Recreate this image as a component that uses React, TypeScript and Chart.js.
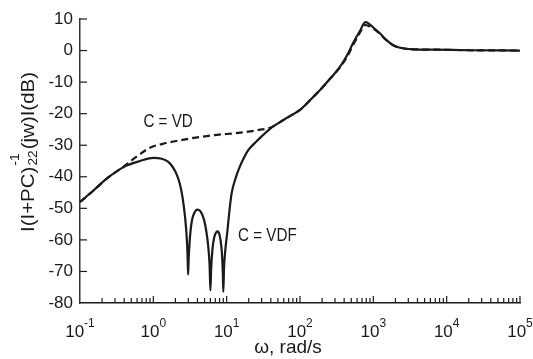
import React, { useEffect, useRef } from "react";
import { Chart, registerables } from "chart.js";

Chart.register(...registerables);

// ---- data ----
const omegaVDF = [
  0.1, 0.15, 0.24, 0.41, 0.66, 1.0, 1.3, 1.6, 1.87, 2.1, 2.3, 2.5, 2.7, 2.85, 2.93, 2.98,
  3.04, 3.15, 3.35, 3.65, 3.95, 4.4, 4.9, 5.3, 5.6, 5.85, 6.0, 6.15, 6.4, 6.8, 7.2, 7.55,
  7.95, 8.3, 8.6, 8.85, 9.0, 9.2, 9.6, 10.2, 11.0, 11.7, 13.0, 14.5, 17.0, 19.8, 25, 30,
  39, 50.7, 70, 100, 140, 188, 260, 352, 450, 530, 650, 780, 850, 1000, 1238, 1500, 1864,
  2323, 3500, 6546, 20000, 100000,
];
const dbVDF = [
  -48, -44.5, -40.3, -36.7, -35, -34, -34.3, -35.3, -37.2, -39.5, -42.3, -46.5, -52.5, -59, -65, -71,
  -65.5, -59.5, -54, -51.3, -50.4, -51, -53.5, -57.5, -62, -68, -76, -69, -63, -59, -57.6, -57.3,
  -58.2, -60.5, -64, -70, -76.5, -69, -63, -57.5, -50, -45.2, -41, -37.8, -34.2, -31.5, -29, -27.2,
  -24.8, -23, -21, -18.8, -15.5, -12.5, -8.8, -5.1, -1, 2.4, 6, 9, 8.7, 7.3, 5.4, 3.4, 1.7,
  0.9, 0.4, 0.3, 0.1, 0,
];
const omegaVD = [
  0.1, 0.15, 0.24, 0.41, 0.6, 0.9, 1.5, 2.5, 4.0, 7.4, 13, 21, 30, 39, 50.7, 70, 100, 140,
  188, 260, 352, 450, 530, 650, 780, 850, 1000, 1238, 1500, 1864, 2323, 3500, 6546, 20000, 100000,
];
const dbVD = [
  -48, -44.5, -40.3, -36.5, -33.5, -30.8, -29.3, -28.3, -27.5, -26.7, -26.2, -25.6, -25, -24.5, -23, -21, -18.8, -15.5,
  -12.5, -8.8, -5.3, -1.5, 1.8, 5.5, 8.1, 7.9, 7.0, 5.2, 3.3, 1.7, 0.9, 0.4, 0.3, 0.1, 0,
];
const yTickValues = [10, 0, -10, -20, -30, -40, -50, -60, -70, -80];
const xDecades = [0.1, 1, 10, 100, 1000, 10000, 100000];
const xExponents = ["-1", "0", "1", "2", "3", "4", "5"];
const minorMultipliers = [2, 3, 4, 5, 6, 7, 8, 9];
const labelVD = { text: "C = VD", omega: 1.59, db: -22.6 };
const labelVDF = { text: "C = VDF", omega: 14.3, db: -58.7 };
const xTitle = "ω, rad/s";
const yTitleParts = { pre: "I(I+PC)", sup: "-1", sub: "22", post: "(jw)I(dB)" };

const FONT = '"Liberation Sans", Arial, Helvetica, sans-serif';
const INK = "#1a1a1a";

const decorPlugin = {
  id: "decor",
  afterDraw(chart: any) {
    const { ctx, chartArea } = chart;
    const xs = chart.scales.x;
    const ys = chart.scales.y;
    ctx.save();
    ctx.strokeStyle = INK;
    ctx.fillStyle = INK;
    ctx.lineWidth = 1.2;

    const yb = chartArea.bottom;
    const xl = chartArea.left;
    // x ticks (pointing up)
    const tick = (px: number, len: number) => {
      ctx.beginPath();
      ctx.moveTo(px, yb);
      ctx.lineTo(px, yb - len);
      ctx.stroke();
    };
    xDecades.forEach((d, i) => {
      if (i > 0) tick(xs.getPixelForValue(d), 7);
      if (i < xDecades.length - 1) minorMultipliers.forEach((m) => tick(xs.getPixelForValue(d * m), 5));
    });
    // y ticks (pointing right)
    yTickValues.forEach((v) => {
      if (v === ys.min) return;
      const py = ys.getPixelForValue(v);
      ctx.beginPath();
      ctx.moveTo(xl, py);
      ctx.lineTo(xl + 7, py);
      ctx.stroke();
    });

    // x tick labels 10^n
    ctx.textBaseline = "alphabetic";
    ctx.textAlign = "left";
    xDecades.forEach((d, i) => {
      const px = xs.getPixelForValue(d);
      ctx.font = `17px ${FONT}`;
      const wb = ctx.measureText("10").width;
      ctx.font = `12px ${FONT}`;
      const we = ctx.measureText(xExponents[i]).width;
      const start = px - (wb + we) / 2;
      ctx.font = `17px ${FONT}`;
      ctx.fillText("10", start, yb + 34);
      ctx.font = `12px ${FONT}`;
      ctx.fillText(xExponents[i], start + wb, yb + 24);
    });

    // x title
    ctx.font = `19px ${FONT}`;
    ctx.textAlign = "center";
    ctx.fillText(xTitle, 288, 353);

    // curve labels
    const drawLabel = (lab: any) => {
      const px = xs.getPixelForValue(lab.omega);
      const py = ys.getPixelForValue(lab.db);
      ctx.save();
      ctx.translate(px, py);
      ctx.scale(0.8, 1);
      ctx.font = `19px ${FONT}`;
      ctx.textAlign = "left";
      ctx.textBaseline = "middle";
      ctx.fillText(lab.text, 0, 0);
      ctx.restore();
    };
    ctx.save();
    ctx.font = `19px ${FONT}`;
    const wvd = ctx.measureText(labelVD.text).width * 0.8;
    ctx.restore();
    {
      const px = xs.getPixelForValue(labelVD.omega) - wvd / 2;
      const py = ys.getPixelForValue(labelVD.db);
      ctx.save();
      ctx.translate(px, py);
      ctx.scale(0.8, 1);
      ctx.font = `19px ${FONT}`;
      ctx.textAlign = "left";
      ctx.textBaseline = "middle";
      ctx.fillText(labelVD.text, 0, 0);
      ctx.restore();
    }
    drawLabel(labelVDF);

    // y title, rotated
    ctx.save();
    ctx.translate(34, 152);
    ctx.rotate(-Math.PI / 2);
    ctx.textAlign = "left";
    ctx.textBaseline = "alphabetic";
    const main = `18px ${FONT}`;
    const small = `12px ${FONT}`;
    ctx.font = main;
    const w1 = ctx.measureText(yTitleParts.pre).width;
    const w2 = ctx.measureText(yTitleParts.post).width;
    ctx.font = small;
    const wb = Math.max(ctx.measureText(yTitleParts.sup).width, ctx.measureText(yTitleParts.sub).width) + 2;
    const total = w1 + wb + w2;
    const s = 160 / total;
    ctx.scale(s, 1);
    const st = -total / 2;
    ctx.font = main;
    ctx.fillText(yTitleParts.pre, st, 0);
    ctx.fillText(yTitleParts.post, st + w1 + wb, 0);
    ctx.font = small;
    ctx.fillText(yTitleParts.sup, st + w1 + 1, -15);
    ctx.fillText(yTitleParts.sub, st + w1 + 1, 3);
    ctx.restore();

    ctx.restore();
  },
};

export default function App() {
  const ref = useRef<HTMLCanvasElement | null>(null);
  useEffect(() => {
    document.body.style.margin = "0";
    const canvas = ref.current;
    if (!canvas) return;
    const chart = new Chart(canvas, {
      type: "line",
      data: {
        datasets: [
          {
            label: "C = VDF",
            data: omegaVDF.map((w, i) => ({ x: w, y: dbVDF[i] })),
            borderColor: INK,
            borderWidth: 2.2,
            pointRadius: 0,
            cubicInterpolationMode: "monotone",
            fill: false,
          },
          {
            label: "C = VD",
            data: omegaVD.map((w, i) => ({ x: w, y: dbVD[i] })),
            borderColor: INK,
            borderWidth: 2.2,
            borderDash: [7, 4],
            pointRadius: 0,
            cubicInterpolationMode: "monotone",
            fill: false,
          },
        ],
      },
      options: {
        animation: false,
        responsive: false,
        maintainAspectRatio: false,
        devicePixelRatio: 1,
        layout: { padding: { left: 0, right: 13, top: 19, bottom: 0 } },
        plugins: { legend: { display: false }, tooltip: { enabled: false } },
        events: [],
        scales: {
          x: {
            type: "logarithmic",
            min: 0.1,
            max: 100000,
            grid: { display: false, drawTicks: false },
            border: { display: true, color: INK, width: 1.5 },
            ticks: { display: false },
            afterFit: (scale: any) => {
              scale.height = 56;
            },
          },
          y: {
            type: "linear",
            min: -80,
            max: 10,
            grid: { display: false, drawTicks: false },
            border: { display: true, color: "#333", width: 1.5 },
            ticks: {
              stepSize: 10,
              padding: 7,
              color: INK,
              font: { family: FONT, size: 17 },
            },
            afterFit: (scale: any) => {
              scale.width = 80;
            },
          },
        },
      },
      plugins: [decorPlugin],
    });
    return () => chart.destroy();
  }, []);
  return (
    <div style={{ width: 533, height: 359 }}>
      <canvas ref={ref} width={533} height={359} />
    </div>
  );
}
